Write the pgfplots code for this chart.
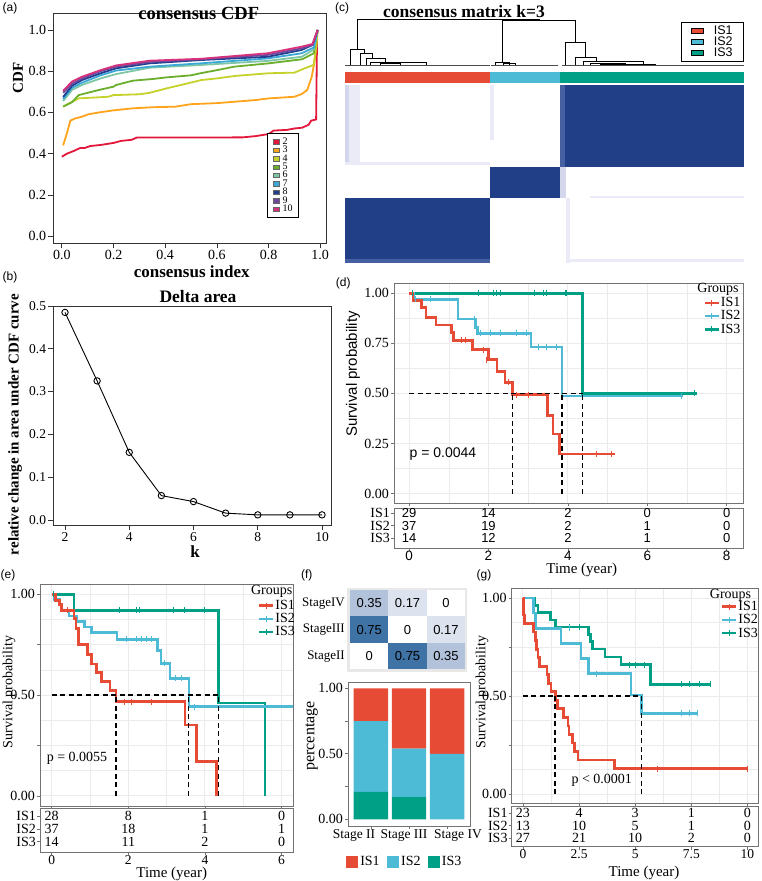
\documentclass[border=0pt]{standalone}
\usepackage{fontspec}
\setmainfont{Liberation Serif}
\newfontfamily\sans{Liberation Sans}
\usepackage{pgfplots}
\pgfplotsset{compat=1.18}
\newcommand\fs[1]{\fontsize{#1}{#1}\selectfont}
\definecolor{isA}{HTML}{E64B35}
\definecolor{isB}{HTML}{4DBBD5}
\definecolor{isC}{HTML}{00A087}
\definecolor{hm}{RGB}{33,63,134}
\definecolor{hmL}{RGB}{70,95,160}
\definecolor{lav}{RGB}{212,214,235}
\definecolor{lavL}{RGB}{234,235,246}
\definecolor{k2}{HTML}{E3173A}
\definecolor{k3}{HTML}{FFA31A}
\definecolor{k4}{HTML}{C5D22B}
\definecolor{k5}{HTML}{6AAE2C}
\definecolor{k6}{HTML}{7FC6A4}
\definecolor{k7}{HTML}{3BA8D8}
\definecolor{k8}{HTML}{203F8E}
\definecolor{k9}{HTML}{6D4A9C}
\definecolor{k10}{HTML}{D7317C}
\definecolor{gridc}{HTML}{EBEBEB}
\definecolor{t75}{HTML}{3F72A5}
\definecolor{t35}{HTML}{B2C2DA}
\definecolor{t17}{HTML}{DCE2EE}
\newcommand\rect[5]{\addplot[fill=#1, draw=none, mark=none] coordinates {(#2,#3)(#4,#3)(#4,#5)(#2,#5)};}
\tikzset{every node/.append style={inner sep=0.5pt}}
\pgfplotsset{
  basefr/.style={scale only axis, anchor=north west, axis line style={black!80, line width=0.9pt},
     tick align=outside, tick pos=left, major tick length=5pt, tick style={black!80, line width=0.7pt},
     tick label style={font=\fs{14}, inner sep=2pt}, clip=false},
  km/.style={scale only axis, anchor=north west, axis line style={black!55, line width=0.8pt},
     xmajorgrids, ymajorgrids, xminorgrids, yminorgrids, minor tick num=1, minor tick length=0pt,
     major grid style={gridc, line width=0.9pt}, minor grid style={gridc, line width=0.45pt},
     tick align=outside, tick pos=left, major tick length=3pt, tick style={black!55, line width=0.7pt},
     tick label style={font=\fs{14}, inner sep=2pt}, ymin=-0.047, ymax=1.051,
     ytick={0,0.25,0.5,0.75,1}, xticklabels={},
     legend image code/.code={\draw[#1, line width=2.4pt] (0pt,0pt) -- (14pt,0pt); \draw[#1, line width=1pt] (7pt,-3pt) -- (7pt,3pt);},
     legend style={draw=none, fill=none, font=\fs{14}, row sep=0.5pt, inner sep=0pt, nodes={inner sep=1pt}, cells={anchor=west}},
  },
  risk/.style={scale only axis, anchor=north west, axis line style={black!55, line width=0.8pt},
     y dir=reverse, ytick={1,2,3}, yticklabels={IS1,IS2,IS3}, tick align=outside, tick pos=left,
     major tick length=3pt, tick style={black!55, line width=0.7pt}, tick label style={font=\fs{14}, inner sep=1pt},
     xticklabel style={font=\fs{13.5}, inner sep=0pt}},
  curve/.style={const plot, mark=none, line width=2.6pt, #1},
  cens/.style={only marks, mark=|, mark size=3pt, mark options={line width=1pt}, #1},
  med/.style={mark=none, dash pattern=on 5pt off 3.5pt, line width=1.2pt, black},
}
\begin{document}
\begin{tikzpicture}
\path[use as bounding box] (0,0) rectangle (761pt,881pt);

% ---------------- (a) consensus CDF ----------------
\begin{axis}[basefr, at={(53.3pt,867.5pt)}, width=273.4pt, height=229.8pt,
  xmin=-0.033, xmax=1.025, ymin=-0.035, ymax=1.080,
  xtick={0,0.2,0.4,0.6,0.8,1}, xticklabels={0.0,0.2,0.4,0.6,0.8,1.0},
  ytick={0,0.2,0.4,0.6,0.8,1}, yticklabels={0.0,0.2,0.4,0.6,0.8,1.0},
  legend entries={2,3,4,5,6,7,8,9,10},
  legend image code/.code={\filldraw[#1, line width=0.3pt, draw=black!60] (0pt,-2.2pt) rectangle (6pt,2.2pt);},
  legend style={at={(axis cs:0.795,0.5)}, anchor=north west, draw=black, line width=0.7pt, fill=white,
     font=\fs{10}, inner xsep=5.5pt, inner ysep=4pt, row sep=-0.3pt, nodes={inner sep=0.3pt}, cells={anchor=west},
     /tikz/every odd column/.append style={column sep=3pt}}]
\addplot[k2, line width=1.8pt, mark=none] coordinates {(0,0.385)(0.02,0.40)(0.05,0.415)(0.07,0.427)(0.09,0.428)(0.11,0.437)(0.15,0.442)(0.2,0.452)(0.23,0.462)(0.27,0.467)(0.29,0.478)(0.5,0.478)(0.7,0.479)(0.75,0.485)(0.8,0.495)(0.82,0.512)(0.87,0.515)(0.9,0.522)(0.93,0.526)(0.955,0.54)(0.965,0.56)(0.984,0.566)(0.988,1.0)};
\addplot[k3, line width=1.8pt, mark=none] coordinates {(0.005,0.44)(0.02,0.50)(0.033,0.56)(0.05,0.57)(0.08,0.58)(0.1,0.59)(0.144,0.60)(0.2,0.61)(0.275,0.62)(0.35,0.625)(0.44,0.628)(0.5,0.64)(0.6,0.645)(0.67,0.652)(0.75,0.66)(0.8,0.668)(0.9,0.676)(0.93,0.69)(0.95,0.71)(0.967,0.773)(0.98,0.862)(0.99,1.0)};
\addplot[k4, line width=1.8pt, mark=none] coordinates {(0.005,0.628)(0.03,0.645)(0.065,0.668)(0.18,0.676)(0.2,0.684)(0.3,0.688)(0.34,0.695)(0.4,0.715)(0.45,0.73)(0.54,0.757)(0.6,0.765)(0.67,0.777)(0.8,0.79)(0.9,0.793)(0.94,0.814)(0.974,0.83)(0.985,0.92)(0.99,1.0)};
\addplot[k5, line width=1.8pt, mark=none] coordinates {(0.005,0.628)(0.04,0.65)(0.065,0.684)(0.144,0.709)(0.2,0.725)(0.21,0.733)(0.275,0.754)(0.35,0.762)(0.405,0.77)(0.5,0.78)(0.536,0.79)(0.6,0.805)(0.667,0.822)(0.8,0.838)(0.93,0.858)(0.975,0.887)(0.99,1.0)};
\addplot[k6, line width=1.8pt, mark=none] coordinates {(0.005,0.655)(0.04,0.71)(0.078,0.733)(0.15,0.765)(0.21,0.786)(0.34,0.817)(0.536,0.83)(0.797,0.85)(0.928,0.87)(0.975,0.905)(0.99,1.0)};
\addplot[k7, line width=1.8pt, mark=none] coordinates {(0.005,0.665)(0.04,0.72)(0.078,0.744)(0.15,0.78)(0.21,0.803)(0.34,0.822)(0.536,0.838)(0.797,0.862)(0.928,0.887)(0.975,0.915)(0.99,1.0)};
\addplot[k8, line width=1.8pt, mark=none] coordinates {(0.005,0.675)(0.04,0.73)(0.078,0.757)(0.15,0.79)(0.21,0.814)(0.34,0.838)(0.536,0.854)(0.797,0.87)(0.928,0.903)(0.97,0.927)(0.99,1.0)};
\addplot[k9, line width=1.8pt, mark=none] coordinates {(0.005,0.695)(0.04,0.74)(0.078,0.765)(0.15,0.80)(0.21,0.822)(0.34,0.845)(0.536,0.858)(0.797,0.879)(0.928,0.911)(0.97,0.927)(0.99,1.0)};
\addplot[k10, line width=1.8pt, mark=none] coordinates {(0.005,0.705)(0.04,0.75)(0.078,0.773)(0.15,0.805)(0.21,0.828)(0.34,0.851)(0.536,0.86)(0.797,0.887)(0.928,0.919)(0.97,0.932)(0.99,1.0)};
\end{axis}
\node[font=\sans\fs{12}] at (10pt,873pt) {(a)};
\node[font=\bfseries\fs{18.5}] at (198.7pt,868pt) {consensus CDF};
\node[font=\bfseries\fs{15}, rotate=90] at (18pt,803pt) {CDF};
\node[font=\bfseries\fs{17}] at (191.7pt,609.3pt) {consensus index};

% ---------------- (b) Delta area ----------------
\begin{axis}[basefr, at={(53.3pt,575pt)}, width=277.7pt, height=219pt,
  xmin=1.636, xmax=10.28, ymin=-0.0117, ymax=0.5,
  xtick={2,4,6,8,10}, xticklabels={2,4,6,8,10},
  ytick={0,0.1,0.2,0.3,0.4,0.5}, yticklabels={0.0,0.1,0.2,0.3,0.4,0.5},
  tick label style={font=\fs{13.5}}]
\addplot[black, line width=0.9pt, mark=o, mark size=3.2pt, mark options={fill=white, line width=0.9pt}]
  coordinates {(2,0.485)(3,0.325)(4,0.158)(5,0.057)(6,0.043)(7,0.016)(8,0.012)(9,0.012)(10,0.012)};
\end{axis}
\node[font=\sans\fs{12}] at (10pt,604pt) {(b)};
\node[font=\bfseries\fs{17.5}] at (198pt,584.3pt) {Delta area};
\node[font=\bfseries\fs{15}, rotate=90] at (15pt,456.5pt) {relative change in area under CDF curve};
\node[font=\bfseries\fs{17}] at (195pt,329pt) {k};

% ---------------- (c) consensus matrix ----------------
\begin{axis}[at={(345pt,865pt)}, anchor=north west, scale only axis, width=399pt, height=247pt,
  xmin=345, xmax=744, ymin=16, ymax=263, y dir=reverse, hide axis, clip=false,
  legend entries={IS1,IS2,IS3},
  legend image code/.code={\filldraw[#1, draw=black, line width=0.4pt] (0pt,-2pt) rectangle (12pt,2.5pt);},
  legend style={at={(axis cs:681,22)}, anchor=north west, draw=black, line width=0.6pt, fill=white,
     font=\sans\fs{12.5}, inner xsep=10pt, inner ysep=3.5pt, row sep=0.2pt, nodes={inner sep=0.2pt}, cells={anchor=west},
     /tikz/every odd column/.append style={column sep=10pt}}]
\addlegendimage{isA}
\addlegendimage{isB}
\addlegendimage{isC}
% colour bar
\rect{isA}{345}{72}{490}{83}
\rect{isB}{490}{72}{560}{83}
\rect{isC}{560}{72}{744}{83}
% blocks
\rect{hm}{560}{85}{744}{167}
\rect{hmL}{560}{85}{565}{167}
\rect{hm}{490}{167}{560}{198}
\rect{hm}{345}{198}{490}{263}
\rect{hmL}{345}{259}{490}{263}
% faint off-block structure
\rect{lavL}{345}{85}{360}{165}
\rect{lav}{345}{85}{349}{165}
\rect{lavL}{345}{162.5}{490}{165}
\rect{lavL}{490}{85}{494}{140}
\rect{lav}{560}{167}{566}{198}
\rect{lavL}{566}{198}{570}{263}
\rect{lavL}{566}{259.5}{744}{262.5}
\rect{lavL}{590}{196.5}{744}{198.5}
% dendrogram
\addplot[black, line width=0.8pt, mark=none] coordinates {(357,49)(357,19)(539,19)(539,20)};
\addplot[black, line width=0.8pt, mark=none] coordinates {(502.3,62)(502.3,20)(575,20)(575,42)};
\addplot[black, line width=0.8pt, mark=none] coordinates {(350.7,65)(350.7,49.3)(364.3,49.3)(364.3,53.3)};
\addplot[black, line width=0.8pt, mark=none] coordinates {(360,65)(360,53.3)(372.7,53.3)(372.7,58.3)};
\addplot[black, line width=0.8pt, mark=none] coordinates {(366,65)(366,58.3)(385,58.3)(385,62.7)};
\addplot[black, line width=0.8pt, mark=none] coordinates {(370,65)(370,62.7)(426.7,62.7)(426.7,65)};
\addplot[black, line width=0.8pt, mark=none] coordinates {(380,65)(380,63.5)(400,63.5)(400,65)};
\addplot[black, line width=0.8pt, mark=none] coordinates {(495.7,65)(495.7,62)(509,62)(509,65)};
\addplot[black, line width=0.8pt, mark=none] coordinates {(503,65)(503,63.5)(515,63.5)(515,65)};
\addplot[black, line width=0.8pt, mark=none] coordinates {(565.7,65)(565.7,42)(585,42)(585,57.3)};
\addplot[black, line width=0.8pt, mark=none] coordinates {(575,65)(575,57.3)(596.7,57.3)(596.7,61.7)};
\addplot[black, line width=0.8pt, mark=none] coordinates {(583,65)(583,61.7)(643,61.7)(643,65)};
\addplot[black, line width=0.8pt, mark=none] coordinates {(590,65)(590,63)(625,63)(625,65)};
\addplot[black, line width=0.8pt, mark=none] coordinates {(600,65)(600,64)(655,64)(655,65)};
\addplot[black!70, line width=0.6pt, mark=none] coordinates {(345,65)(490,65)};
\addplot[black!70, line width=0.6pt, mark=none] coordinates {(491,65)(558,65)};
\addplot[black!70, line width=0.6pt, mark=none] coordinates {(562,65)(744,65)};
\end{axis}
\node[font=\sans\fs{12}] at (342pt,872.7pt) {(c)};
\node[font=\bfseries\fs{17.5}] at (464pt,869pt) {consensus matrix k=3};

% ---------------- (d) KM ----------------
\begin{axis}[km, at={(394pt,598pt)}, width=349pt, height=220pt, xmin=-0.38, xmax=8.41,
  xtick={0,2,4,6,8}, yticklabels={0.00,0.25,0.50,0.75,1.00},
  legend entries={IS1,IS2,IS3}, legend style={at={(axis cs:7.41,0.985)}, anchor=north west}]
\addlegendimage{isA}
\addlegendimage{isB}
\addlegendimage{isC}
\addplot[curve=isC] coordinates {(0,1)(4.37,0.5)(7.25,0.5)};
\addplot[curve=isB] coordinates {(0,1)(0.11,0.97)(1.23,0.872)(1.68,0.83)(1.72,0.80)(3.07,0.731)(3.85,0.487)(6.91,0.487)};
\addplot[curve=isA] coordinates {(0,1)(0.10,0.963)(0.32,0.93)(0.43,0.88)(0.68,0.842)(1.07,0.804)(1.12,0.764)(1.60,0.718)(2.0,0.668)(2.21,0.61)(2.42,0.555)(2.61,0.493)(3.49,0.39)(3.62,0.297)(3.79,0.198)(5.19,0.198)};
\addplot[cens=isC] coordinates {(0.08,1)(1.76,1)(2.12,1)(2.21,1)(2.29,1)(3.17,1)(3.38,1)(3.47,1)(3.93,1)(3.97,1)(7.2,0.5)};
\addplot[cens=isB] coordinates {(0.15,0.97)(0.53,0.97)(1.65,0.872)(1.79,0.80)(2.04,0.80)(2.29,0.80)(2.71,0.80)(2.96,0.80)(3.26,0.731)(3.47,0.731)(3.72,0.731)(6.85,0.487)};
\addplot[cens=isA] coordinates {(1.33,0.764)(1.41,0.764)(1.87,0.718)(1.94,0.668)(2.5,0.555)(2.71,0.493)(3.0,0.493)(4.73,0.198)(5.1,0.198)};
\addplot[med] coordinates {(0,0.5)(4.37,0.5)};
\addplot[med] coordinates {(2.61,0)(2.61,0.5)};
\addplot[med] coordinates {(3.85,0)(3.85,0.5)};
\addplot[med] coordinates {(4.37,0)(4.37,0.5)};
\end{axis}
\begin{axis}[risk, at={(394pt,373pt)}, width=349pt, height=40pt, xmin=-0.38, xmax=8.41, ymin=0.58, ymax=3.78,
  xtick={0,2,4,6,8}, xticklabels={0,2,4,6,8}, xticklabel style={font=\sans\fs{13.5}, inner sep=0pt}]
\node[font=\sans\fs{13}] at (axis cs:0,1) {29};
\node[font=\sans\fs{13}] at (axis cs:2,1) {14};
\node[font=\sans\fs{13}] at (axis cs:4,1) {2};
\node[font=\sans\fs{13}] at (axis cs:6,1) {0};
\node[font=\sans\fs{13}] at (axis cs:8,1) {0};
\node[font=\sans\fs{13}] at (axis cs:0,2) {37};
\node[font=\sans\fs{13}] at (axis cs:2,2) {19};
\node[font=\sans\fs{13}] at (axis cs:4,2) {2};
\node[font=\sans\fs{13}] at (axis cs:6,2) {1};
\node[font=\sans\fs{13}] at (axis cs:8,2) {0};
\node[font=\sans\fs{13}] at (axis cs:0,3) {14};
\node[font=\sans\fs{13}] at (axis cs:2,3) {12};
\node[font=\sans\fs{13}] at (axis cs:4,3) {2};
\node[font=\sans\fs{13}] at (axis cs:6,3) {1};
\node[font=\sans\fs{13}] at (axis cs:8,3) {0};
\end{axis}
\node[font=\sans\fs{12}] at (343.3pt,597.7pt) {(d)};
\node[font=\sans\fs{15}, rotate=90] at (353pt,507pt) {Survival probability};
\node[font=\fs{14}] at (718pt,592pt) {Groups};
\node[font=\sans\fs{14}] at (443pt,427pt) {p = 0.0044};
\node[font=\fs{15}] at (581.7pt,311pt) {Time (year)};

% ---------------- (e) KM ----------------
\begin{axis}[km, at={(40pt,297pt)}, width=253pt, height=222pt, xmin=-0.305, xmax=6.3, ymin=-0.05,
  xtick={0,2,4,6}, yticklabels={0.00,,0.50,,1.00},
  legend entries={IS1,IS2,IS3}, legend style={at={(axis cs:5.38,0.977)}, anchor=north west}]
\addlegendimage{isA}
\addlegendimage{isB}
\addlegendimage{isC}
\addplot[curve=isC] coordinates {(0,1)(0.58,0.921)(4.36,0.46)(5.57,0)};
\addplot[curve=isB] coordinates {(0,1)(0.08,0.973)(0.2,0.946)(0.25,0.919)(0.45,0.892)(0.65,0.865)(0.85,0.838)(1.04,0.81)(1.70,0.777)(2.76,0.72)(2.85,0.658)(3.09,0.583)(3.58,0.443)(6.3,0.443)};
\addplot[curve=isA] coordinates {(0,1)(0.1,0.97)(0.2,0.95)(0.25,0.92)(0.58,0.88)(0.64,0.83)(0.70,0.75)(0.93,0.70)(1.04,0.655)(1.17,0.613)(1.30,0.567)(1.52,0.522)(1.68,0.468)(3.48,0.352)(3.78,0.17)(4.30,0)};
\addplot[cens=isC] coordinates {(0.05,1)(1.78,0.921)(2.21,0.921)(2.30,0.921)(3.17,0.921)(3.48,0.921)(3.99,0.921)};
\addplot[cens=isB] coordinates {(1.96,0.777)(2.22,0.777)(2.35,0.777)(2.48,0.777)(2.61,0.777)(2.95,0.658)(3.22,0.583)(3.39,0.583)(3.74,0.443)};
\addplot[cens=isA] coordinates {(0.4,0.92)(1.91,0.468)(2.09,0.468)(2.61,0.468)};
\addplot[med] coordinates {(0,0.5)(4.36,0.5)};
\addplot[med] coordinates {(1.68,0)(1.68,0.5)};
\addplot[med] coordinates {(3.58,0)(3.58,0.5)};
\addplot[med] coordinates {(4.36,0)(4.36,0.5)};
\end{axis}
\begin{axis}[risk, at={(40pt,73pt)}, width=253pt, height=44pt, xmin=-0.305, xmax=6.3, ymin=0.35, ymax=3.8,
  xtick={0,2,4,6}, xticklabels={0,2,4,6}]
\node[font=\fs{14}] at (axis cs:0,1) {28};
\node[font=\fs{14}] at (axis cs:2,1) {8};
\node[font=\fs{14}] at (axis cs:4,1) {1};
\node[font=\fs{14}] at (axis cs:6,1) {0};
\node[font=\fs{14}] at (axis cs:0,2) {37};
\node[font=\fs{14}] at (axis cs:2,2) {18};
\node[font=\fs{14}] at (axis cs:4,2) {1};
\node[font=\fs{14}] at (axis cs:6,2) {1};
\node[font=\fs{14}] at (axis cs:0,3) {14};
\node[font=\fs{14}] at (axis cs:2,3) {11};
\node[font=\fs{14}] at (axis cs:4,3) {2};
\node[font=\fs{14}] at (axis cs:6,3) {0};
\end{axis}
\node[font=\sans\fs{12}] at (8pt,306pt) {(e)};
\node[font=\fs{14}, rotate=90] at (9pt,189pt) {Survival probability};
\node[font=\fs{14}] at (271.7pt,289.3pt) {Groups};
\node[font=\fs{14}] at (77pt,123pt) {p = 0.0055};
\node[font=\fs{15}] at (171.7pt,7.3pt) {Time (year)};

% ---------------- (f) tiles ----------------
\begin{axis}[scale only axis, anchor=north west, at={(347pt,293pt)}, width=120pt, height=84pt,
  xmin=0.42, xmax=3.55, ymin=0.40, ymax=3.576, axis line style={draw=none},
  axis background/.style={fill=black!9},
  xtick=\empty, ytick={1,2,3}, yticklabels={StageII,StageIII,StageIV},
  major tick length=0pt, yticklabel style={font=\fs{13}, inner sep=2pt}]
\rect{t35}{0.5}{2.5}{1.5}{3.5}
\rect{t17}{1.5}{2.5}{2.5}{3.5}
\rect{white}{2.5}{2.5}{3.5}{3.5}
\rect{t75}{0.5}{1.5}{1.5}{2.5}
\rect{white}{1.5}{1.5}{2.5}{2.5}
\rect{t17}{2.5}{1.5}{3.5}{2.5}
\rect{white}{0.5}{0.5}{1.5}{1.5}
\rect{t75}{1.5}{0.5}{2.5}{1.5}
\rect{t35}{2.5}{0.5}{3.5}{1.5}
\node[font=\sans\fs{13}] at (axis cs:1,3) {0.35};
\node[font=\sans\fs{13}] at (axis cs:2,3) {0.17};
\node[font=\sans\fs{13}] at (axis cs:3,3) {0};
\node[font=\sans\fs{13}] at (axis cs:1,2) {0.75};
\node[font=\sans\fs{13}] at (axis cs:2,2) {0};
\node[font=\sans\fs{13}] at (axis cs:3,2) {0.17};
\node[font=\sans\fs{13}] at (axis cs:1,1) {0};
\node[font=\sans\fs{13}] at (axis cs:2,1) {0.75};
\node[font=\sans\fs{13}] at (axis cs:3,1) {0.35};
\end{axis}
% ---------------- (f) stacked bars ----------------
\begin{axis}[scale only axis, anchor=north west, at={(348pt,198.3pt)}, width=122pt, height=143.3pt,
  xmin=0.4, xmax=3.6, ymin=-0.051, ymax=1.043, ybar stacked, bar width=0.9,
  xtick={1,2,3}, xticklabels={}, ytick={0,0.25,0.5,0.75,1}, yticklabels={0.00,,0.50,,1.00},
  axis line style={black!55, line width=0.8pt}, tick align=outside, tick pos=left, major tick length=3pt,
  tick style={black!55, line width=0.7pt}, tick label style={font=\fs{14}, inner sep=2pt},
  legend columns=3, legend entries={IS1,IS2,IS3},
  legend style={at={(rel axis cs:0.46,-0.25)}, anchor=center, draw=none, fill=none, font=\fs{14},
     nodes={inner sep=1pt}, /tikz/every even column/.append style={column sep=6pt},
     /tikz/every odd column/.append style={column sep=2pt}}]
\addlegendimage{legend image code/.code={\fill[isA] (0pt,-5.5pt) rectangle (11pt,5.5pt);}}
\addlegendimage{legend image code/.code={\fill[isB] (0pt,-5.5pt) rectangle (11pt,5.5pt);}}
\addlegendimage{legend image code/.code={\fill[isC] (0pt,-5.5pt) rectangle (11pt,5.5pt);}}
\addplot[fill=isC, draw=none] coordinates {(1,0.21)(2,0.17)(3,0)};
\addplot[fill=isB, draw=none] coordinates {(1,0.54)(2,0.37)(3,0.5)};
\addplot[fill=isA, draw=none] coordinates {(1,0.25)(2,0.46)(3,0.5)};
\end{axis}
\node[font=\sans\fs{12}] at (306.7pt,306pt) {(f)};
\node[font=\fs{16}, rotate=90] at (311.7pt,145pt) {percentage};
\node[font=\fs{13.5}] at (354pt,46pt) {Stage II};
\node[font=\fs{13.5}] at (404pt,46pt) {Stage III};
\node[font=\fs{13.5}] at (458pt,46pt) {Stage IV};

% ---------------- (g) KM ----------------
\begin{axis}[km, at={(511.7pt,292.7pt)}, width=247pt, height=215.5pt, xmin=-0.5, xmax=10.5, ymin=-0.05, ymax=1.05,
  xtick={0,2.5,5,7.5,10}, yticklabels={0.00,,0.50,,1.00},
  legend entries={IS1,IS2,IS3}, legend style={at={(axis cs:8.81,0.99)}, anchor=north west}]
\addlegendimage{isA}
\addlegendimage{isB}
\addlegendimage{isC}
\addplot[curve=isC] coordinates {(0,1)(0.52,0.963)(0.67,0.926)(1.24,0.889)(1.45,0.852)(2.92,0.815)(3.0,0.778)(3.1,0.741)(3.66,0.70)(4.37,0.66)(5.67,0.56)(8.37,0.56)};
\addplot[curve=isB] coordinates {(0,1)(0.48,0.923)(0.55,0.846)(1.70,0.769)(2.59,0.692)(2.92,0.615)(4.81,0.506)(5.29,0.412)(7.78,0.412)};
\addplot[curve=isA] coordinates {(0,1)(0.03,0.913)(0.08,0.87)(0.47,0.826)(0.55,0.783)(0.6,0.739)(0.67,0.696)(0.75,0.652)(1.08,0.609)(1.15,0.565)(1.25,0.522)(1.45,0.478)(1.55,0.435)(1.8,0.391)(2.0,0.348)(2.05,0.304)(2.2,0.261)(2.3,0.217)(2.45,0.174)(4.07,0.13)(10,0.13)};
\addplot[cens=isC] coordinates {(2.07,0.852)(2.52,0.852)(4.74,0.66)(5.0,0.66)(5.4,0.66)(7.04,0.56)(7.41,0.56)(7.85,0.56)(8.37,0.56)};
\addplot[cens=isB] coordinates {(2.07,0.846)(3.26,0.615)(7.04,0.412)(7.41,0.412)(7.78,0.412)};
\addplot[cens=isA] coordinates {(6.0,0.13)(10,0.13)};
\addplot[med] coordinates {(0,0.5)(5.29,0.5)};
\addplot[med] coordinates {(1.43,0)(1.43,0.5)};
\addplot[med] coordinates {(5.29,0)(5.29,0.5)};
\end{axis}
\begin{axis}[risk, at={(511.7pt,74.3pt)}, width=247pt, height=40pt, xmin=-0.5, xmax=10.5, ymin=0.47, ymax=3.67,
  xtick={0,2.5,5,7.5,10}, xticklabels={0,2.5,5,7.5,10}]
\node[font=\fs{14}] at (axis cs:0,1) {23};
\node[font=\fs{14}] at (axis cs:2.5,1) {4};
\node[font=\fs{14}] at (axis cs:5,1) {3};
\node[font=\fs{14}] at (axis cs:7.5,1) {1};
\node[font=\fs{14}] at (axis cs:10,1) {0};
\node[font=\fs{14}] at (axis cs:0,2) {13};
\node[font=\fs{14}] at (axis cs:2.5,2) {10};
\node[font=\fs{14}] at (axis cs:5,2) {5};
\node[font=\fs{14}] at (axis cs:7.5,2) {1};
\node[font=\fs{14}] at (axis cs:10,2) {0};
\node[font=\fs{14}] at (axis cs:0,3) {27};
\node[font=\fs{14}] at (axis cs:2.5,3) {21};
\node[font=\fs{14}] at (axis cs:5,3) {10};
\node[font=\fs{14}] at (axis cs:7.5,3) {2};
\node[font=\fs{14}] at (axis cs:10,3) {0};
\end{axis}
\node[font=\sans\fs{12}] at (484pt,306pt) {(g)};
\node[font=\fs{14}, rotate=90] at (482pt,189pt) {Survival probability};
\node[font=\fs{14}] at (730.5pt,286pt) {Groups};
\node[font=\fs{14}] at (601.7pt,101pt) {p < 0.0001};
\node[font=\fs{15}] at (644pt,7.8pt) {Time (year)};
\end{tikzpicture}
\end{document}
